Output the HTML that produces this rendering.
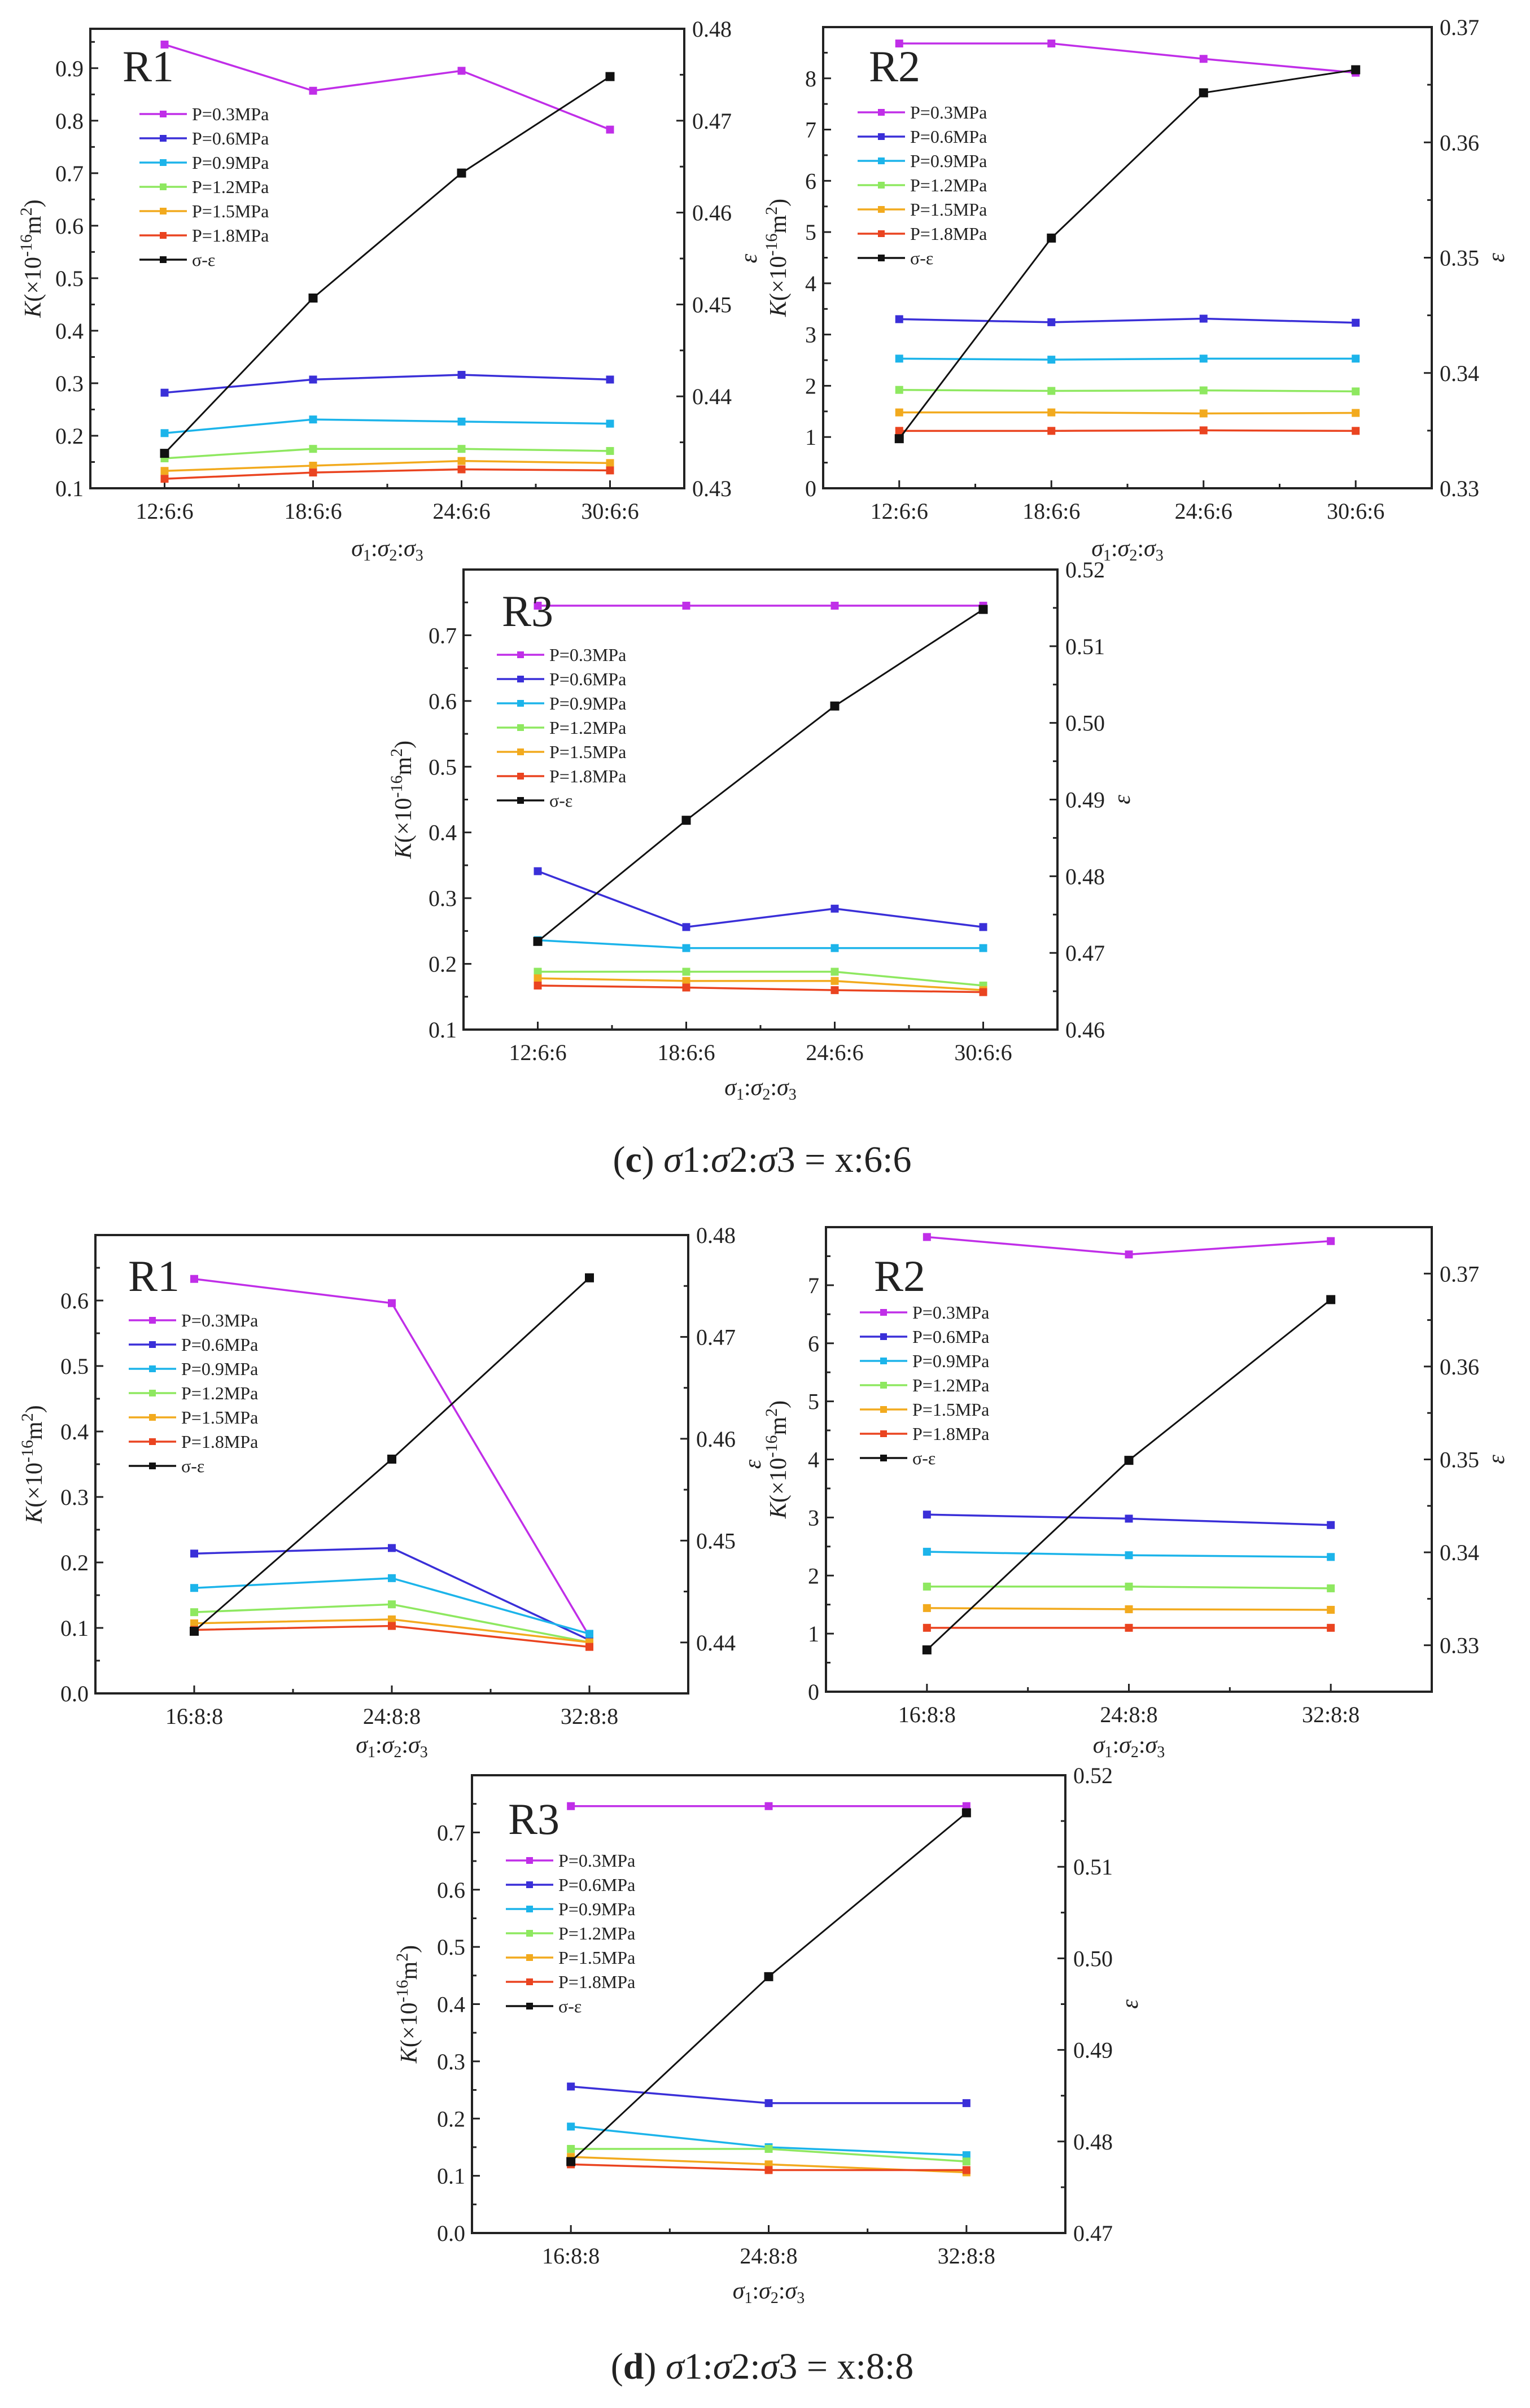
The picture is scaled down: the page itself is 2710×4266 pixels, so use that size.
<!DOCTYPE html>
<html><head><meta charset="utf-8">
<style>
html,body{margin:0;padding:0;background:#fff;}
svg{display:block;}
text{font-family:"Liberation Serif",serif;fill:#222;}
</style></head>
<body>
<svg id="fig" width="2710" height="4266" viewBox="0 0 2710 4266" xmlns="http://www.w3.org/2000/svg">
<text x="1350" y="2076" text-anchor="middle" font-size="66">(<tspan font-weight="bold">c</tspan>) <tspan font-style="italic">σ</tspan>1:<tspan font-style="italic">σ</tspan>2:<tspan font-style="italic">σ</tspan>3 = x:6:6</text>
<text x="1350" y="4214" text-anchor="middle" font-size="66">(<tspan font-weight="bold">d</tspan>) <tspan font-style="italic">σ</tspan>1:<tspan font-style="italic">σ</tspan>2:<tspan font-style="italic">σ</tspan>3 = x:8:8</text>
</svg>
<script>
// ---- data ----
const seriesNames = ["P=0.3MPa","P=0.6MPa","P=0.9MPa","P=1.2MPa","P=1.5MPa","P=1.8MPa"];
const catsC = ["12:6:6","18:6:6","24:6:6","30:6:6"];
const catsD = ["16:8:8","24:8:8","32:8:8"];

const r1cK = [[0.945,0.857,0.895,0.783],[0.282,0.307,0.316,0.307],[0.205,0.231,0.227,0.223],[0.157,0.175,0.175,0.171],[0.133,0.143,0.152,0.148],[0.118,0.130,0.136,0.134]];
const r1cE = [0.4338,0.4507,0.4643,0.4748];
const r2cK = [[8.68,8.68,8.38,8.11],[3.30,3.24,3.31,3.23],[2.53,2.51,2.53,2.53],[1.92,1.90,1.91,1.89],[1.48,1.48,1.46,1.47],[1.12,1.12,1.13,1.12]];
const r2cE = [0.3343,0.3517,0.3643,0.3663];
const r3cK = [[0.745,0.745,0.745,0.745],[0.341,0.256,0.284,0.256],[0.236,0.224,0.224,0.224],[0.188,0.188,0.188,0.167],[0.178,0.174,0.174,0.160],[0.167,0.164,0.160,0.157]];
const r3cE = [0.4715,0.4873,0.5022,0.5148];
const r1dK = [[0.633,0.596,0.087],[0.2135,0.222,0.0815],[0.161,0.176,0.091],[0.124,0.136,0.078],[0.107,0.113,0.078],[0.097,0.103,0.071]];
const r1dE = [0.4411,0.4580,0.4758];
const r2dK = [[7.83,7.53,7.76],[3.05,2.98,2.87],[2.41,2.35,2.32],[1.81,1.81,1.78],[1.44,1.42,1.41],[1.10,1.10,1.10]];
const r2dE = [0.3295,0.3499,0.3672];
const r3dK = [[0.746,0.746,0.746],[0.256,0.227,0.227],[0.186,0.150,0.136],[0.147,0.147,0.125],[0.133,0.120,0.106],[0.120,0.110,0.110]];
const r3dE = [0.4778,0.4980,0.5159];

const leftTicksR1c = ["0.1","0.2","0.3","0.4","0.5","0.6","0.7","0.8","0.9"];
const rightTicksR1c = ["0.43","0.44","0.45","0.46","0.47","0.48"];
const leftTicksR2c = ["0","1","2","3","4","5","6","7","8"];
const rightTicksR2c = ["0.33","0.34","0.35","0.36","0.37"];
const leftTicksR3c = ["0.1","0.2","0.3","0.4","0.5","0.6","0.7"];
const rightTicksR3c = ["0.46","0.47","0.48","0.49","0.50","0.51","0.52"];
const leftTicksR1d = ["0.0","0.1","0.2","0.3","0.4","0.5","0.6"];
const rightTicksR1d = ["0.44","0.45","0.46","0.47","0.48"];
const leftTicksR2d = ["0","1","2","3","4","5","6","7"];
const rightTicksR2d = ["0.33","0.34","0.35","0.36","0.37"];
const leftTicksR3d = ["0.0","0.1","0.2","0.3","0.4","0.5","0.6","0.7"];
const rightTicksR3d = ["0.47","0.48","0.49","0.50","0.51","0.52"];

const colors = ["#c02ee8","#3a2fd8","#1cb4ea","#8ee860","#f2aa1e","#ea4420"];
const NS = "http://www.w3.org/2000/svg";
const svg = document.getElementById("fig");

function mk(tag, attrs, parent){
  const e = document.createElementNS(NS, tag);
  for (const k in attrs) e.setAttribute(k, attrs[k]);
  (parent||svg).appendChild(e);
  return e;
}

function panel(p){
  const g = mk("g", {});
  
  
  const n = p.cats.length;
  const w = p.x1 - p.x0, h = p.y1 - p.y0;
  const xs = i => p.x0 + (i + 0.5) * w / n;
  const yl = v => p.y1 - (v - p.lmin) / (p.lmax - p.lmin) * h;
  const yr = v => p.y1 - (v - p.rmin) / (p.rmax - p.rmin) * h;

  p.lt.forEach(t => {
    const v = parseFloat(t), y = yl(v);
    const tk = mk("line", {x1:p.x0, x2:p.x0+14, y1:y, y2:y, stroke:"#222","stroke-width":3}, g);
    
    
    const lb = mk("text", {x:p.x0-12, y:y+14, "text-anchor":"end","font-size":40}, g);
    lb.textContent = t;
    
    
    const mv = v + p.lstep/2;
    if (mv < p.lmax) { const my = yl(mv); mk("line",{x1:p.x0,x2:p.x0+8,y1:my,y2:my,stroke:"#222","stroke-width":3},g); }
    const mv2 = v - p.lstep/2;
    if (mv2 > p.lmin && p.lt.indexOf(t)===0) { const my = yl(mv2); mk("line",{x1:p.x0,x2:p.x0+8,y1:my,y2:my,stroke:"#222","stroke-width":3},g); }
  });
  p.rt.forEach((t,idx) => {
    const v = parseFloat(t), y = yr(v);
    const tk = mk("line", {x1:p.x1-14, x2:p.x1, y1:y, y2:y, stroke:"#222","stroke-width":3}, g);
    
    
    const lb = mk("text", {x:p.x1+14, y:y+14, "font-size":40}, g);
    lb.textContent = t;
    
    
    const mv = v + p.rstep/2;
    if (mv < p.rmax) { const my = yr(mv); mk("line",{x1:p.x1-8,x2:p.x1,y1:my,y2:my,stroke:"#222","stroke-width":3},g); }
    if (idx===0 && v - p.rstep/2 > p.rmin) { const my = yr(v-p.rstep/2); mk("line",{x1:p.x1-8,x2:p.x1,y1:my,y2:my,stroke:"#222","stroke-width":3},g); }
  });
  p.cats.forEach((c,i) => {
    const x = xs(i);
    mk("line",{x1:x,x2:x,y1:p.y1-14,y2:p.y1,stroke:"#222","stroke-width":3},g);
    if (i < n-1) { const mx = (x + xs(i+1))/2; mk("line",{x1:mx,x2:mx,y1:p.y1-8,y2:p.y1,stroke:"#222","stroke-width":3},g); }
    const lb = mk("text",{x:x,y:p.y1+54,"text-anchor":"middle","font-size":40},g);
    lb.textContent = c;
    
    
  });
  const fr = mk("rect",{x:p.x0,y:p.y0,width:w,height:h,fill:"none",stroke:"#222","stroke-width":4},g);
  
  

  p.K.forEach((vals, s) => {
    const pts = vals.map((v,i) => xs(i)+","+yl(v)).join(" ");
    const pl = mk("polyline",{points:pts,fill:"none",stroke:colors[s],"stroke-width":3.5},g);
    
    
    vals.forEach((v,i) => {
      const m = mk("rect",{x:xs(i)-7,y:yl(v)-7,width:14,height:14,fill:colors[s]},g);
      
      
    });
  });
  const ep = mk("polyline",{points:p.E.map((v,i)=>xs(i)+","+yr(v)).join(" "),fill:"none",stroke:"#111","stroke-width":3},g);
  
  
  p.E.forEach((v,i) => {
    const m = mk("rect",{x:xs(i)-8,y:yr(v)-8,width:16,height:16,fill:"#111"},g);
    
    
  });

  const rl = mk("text",{x:p.x0+p.rlx,y:p.y0+p.rly,"font-size":78},g);
  rl.textContent = p.label;
  
  

  const lx = p.x0 + p.lgx, ly0 = p.y0 + 151;
  const names = seriesNames.concat(["σ-ε"]);
  const cols = colors.concat(["#111"]);
  names.forEach((nm,i) => {
    const y = ly0 + i*43;
    const le = mk("g",{},g);
    
    
    mk("line",{x1:lx,x2:lx+84,y1:y,y2:y,stroke:cols[i],"stroke-width":3.5},le);
    mk("rect",{x:lx+36,y:y-6,width:12,height:12,fill:cols[i]},le);
    const t = mk("text",{x:lx+93,y:y+11,"font-size":32},le);
    t.textContent = nm;
  });

  const cy = (p.y0+p.y1)/2;
  const yt = mk("text",{x:p.ytx,y:cy,"text-anchor":"middle","font-size":42,transform:"rotate(-90 "+p.ytx+" "+cy+")"},g);
  yt.innerHTML = '<tspan font-style="italic">K</tspan>(×10<tspan dy="-16" font-size="30">-16</tspan><tspan dy="16">m</tspan><tspan dy="-16" font-size="30">2</tspan><tspan dy="16">)</tspan>';
  
  
  const rx = p.x1 + 128;
  const et = mk("text",{x:rx,y:cy,"text-anchor":"middle","font-size":42,"font-style":"italic",transform:"rotate(-90 "+rx+" "+cy+")"},g);
  et.textContent = "ε";
  
  
  const cx = (p.x0+p.x1)/2;
  const xt = mk("text",{x:cx,y:p.xty,"text-anchor":"middle","font-size":42},g);
  xt.innerHTML = '<tspan font-style="italic">σ</tspan><tspan font-size="28" dy="8">1</tspan><tspan dy="-8">:</tspan><tspan font-style="italic">σ</tspan><tspan font-size="28" dy="8">2</tspan><tspan dy="-8">:</tspan><tspan font-style="italic">σ</tspan><tspan font-size="28" dy="8">3</tspan>';
  
  
}

panel({name:"chart-c-r1",label:"R1",cats:catsC,K:r1cK,E:r1cE,x0:160,x1:1212,y0:51,y1:865,lmin:0.1,lmax:0.975,lstep:0.1,rmin:0.43,rmax:0.48,rstep:0.01,lt:leftTicksR1c,rt:rightTicksR1c,rlx:57,rly:93,lgx:87,ytx:72,xty:985});
panel({name:"chart-c-r2",label:"R2",cats:catsC,K:r2cK,E:r2cE,x0:1458,x1:2536,y0:48,y1:865,lmin:0,lmax:9,lstep:1,rmin:0.33,rmax:0.37,rstep:0.01,lt:leftTicksR2c,rt:rightTicksR2c,rlx:81,rly:96,lgx:61,ytx:1392,xty:985});
panel({name:"chart-c-r3",label:"R3",cats:catsC,K:r3cK,E:r3cE,x0:821,x1:1873,y0:1009,y1:1824,lmin:0.1,lmax:0.8,lstep:0.1,rmin:0.46,rmax:0.52,rstep:0.01,lt:leftTicksR3c,rt:rightTicksR3c,rlx:68,rly:100,lgx:59,ytx:728,xty:1940});
panel({name:"chart-d-r1",label:"R1",cats:catsD,K:r1dK,E:r1dE,x0:169,x1:1219,y0:2188,y1:3000,lmin:0,lmax:0.7,lstep:0.1,rmin:0.435,rmax:0.48,rstep:0.01,lt:leftTicksR1d,rt:rightTicksR1d,rlx:58,rly:99,lgx:59,ytx:74,xty:3105});
panel({name:"chart-d-r2",label:"R2",cats:catsD,K:r2dK,E:r2dE,x0:1463,x1:2536,y0:2174,y1:2997,lmin:0,lmax:8,lstep:1,rmin:0.325,rmax:0.375,rstep:0.01,lt:leftTicksR2d,rt:rightTicksR2d,rlx:85,rly:113,lgx:60,ytx:1392,xty:3105});
panel({name:"chart-d-r3",label:"R3",cats:catsD,K:r3dK,E:r3dE,x0:836,x1:1887,y0:3145,y1:3956,lmin:0,lmax:0.8,lstep:0.1,rmin:0.47,rmax:0.52,rstep:0.01,lt:leftTicksR3d,rt:rightTicksR3d,rlx:64,rly:104,lgx:60,ytx:738,xty:4072});
</script>
</body></html>
